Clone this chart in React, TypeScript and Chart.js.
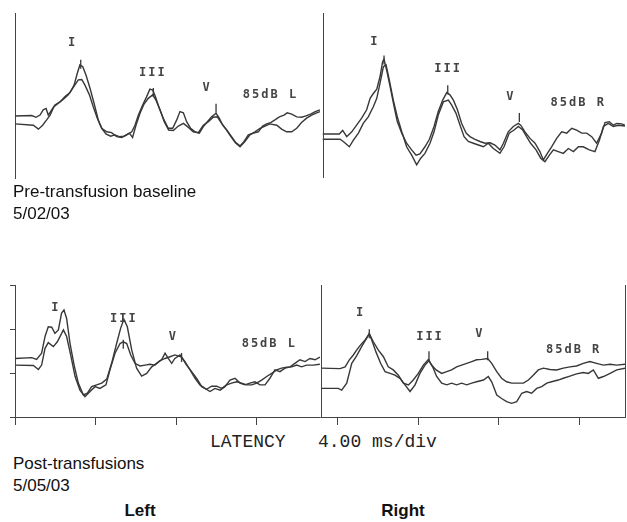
import React, { useEffect, useRef } from "react";
import { Chart, registerables } from "chart.js";

Chart.register(...registerables);

type Pt = [number, number];
type Label = { text: string; t: number; v: number; align: "left" | "center" };

// Shared latency axis (ms), 4.00 ms / div
const timeMax = 30.25;
const tickStep = 4;
const preSplit = 15.26; // boundary between Left / Right panels (ms)
const postSplit = 15.17;

// ---- Pre-transfusion baseline (5/02/03): [latency ms, amplitude] ----
const preLeftA: Pt[] = [
  [0, -0.09], [0.83, -0.08], [1.04, -0.12], [1.24, -0.07], [1.4, 0.05], [1.54, 0.08], [1.65, -0.07], [1.82, 0.05],
  [1.98, 0.16], [2.23, 0.23], [2.48, 0.35], [2.73, 0.44], [2.93, 0.61], [3.09, 0.88], [3.22, 1.07], [3.36, 1.03],
  [3.52, 0.84], [3.72, 0.54], [3.92, 0.2], [4.13, -0.18], [4.3, -0.37], [4.55, -0.45], [4.79, -0.47], [5.04, -0.56],
  [5.29, -0.58], [5.54, -0.52], [5.79, -0.45], [5.95, -0.3], [6.12, -0.07], [6.33, 0.16], [6.53, 0.35], [6.69, 0.52],
  [6.83, 0.5], [6.96, 0.35], [7.16, 0.08], [7.39, -0.18], [7.6, -0.37], [7.82, -0.37], [8.02, -0.18], [8.18, 0.01],
  [8.35, -0.02], [8.51, -0.22], [8.71, -0.37], [8.93, -0.45], [9.14, -0.48], [9.34, -0.33], [9.54, -0.22], [9.75, -0.11],
  [9.97, -0.03], [10.13, -0.14], [10.3, -0.3], [10.5, -0.41], [10.74, -0.56], [10.96, -0.7], [11.16, -0.77], [11.36, -0.67],
  [11.57, -0.52], [11.82, -0.48], [12.07, -0.45], [12.28, -0.32], [12.48, -0.27], [12.68, -0.24], [12.89, -0.18], [13.11, -0.11],
  [13.34, -0.07], [13.5, -0.02], [13.72, -0.05], [13.97, -0.11], [14.21, -0.12], [14.43, -0.09], [14.66, -0.05], [14.89, 0.01],
  [15.12, 0.05],
];
const preLeftB: Pt[] = [
  [0, -0.27], [0.91, -0.3], [1.16, -0.39], [1.37, -0.3], [1.57, -0.18], [1.74, -0.07], [1.93, 0.12], [2.15, 0.2],
  [2.4, 0.29], [2.64, 0.39], [2.89, 0.56], [3.14, 0.73], [3.31, 0.74], [3.47, 0.61], [3.69, 0.39], [3.88, 0.12],
  [4.08, -0.14], [4.3, -0.37], [4.51, -0.5], [4.74, -0.55], [4.96, -0.52], [5.17, -0.56], [5.4, -0.55], [5.67, -0.48],
  [5.83, -0.58], [6.0, -0.3], [6.2, -0.03], [6.4, 0.18], [6.61, 0.31], [6.83, 0.39], [6.99, 0.27], [7.19, 0.05],
  [7.4, -0.22], [7.62, -0.41], [7.85, -0.42], [8.1, -0.32], [8.35, -0.26], [8.6, -0.35], [8.84, -0.45], [9.09, -0.47],
  [9.34, -0.3], [9.59, -0.22], [9.83, -0.12], [10.03, -0.11], [10.25, -0.26], [10.46, -0.39], [10.69, -0.55], [10.93, -0.7],
  [11.16, -0.79], [11.4, -0.67], [11.65, -0.52], [11.9, -0.45], [12.15, -0.37], [12.4, -0.32], [12.64, -0.27], [12.98, -0.3],
  [13.22, -0.39], [13.47, -0.45], [13.72, -0.45], [13.97, -0.37], [14.21, -0.24], [14.46, -0.14], [14.71, -0.07], [14.96, -0.02],
  [15.12, 0.01],
];
const preRightA: Pt[] = [
  [15.26, -0.5], [16.08, -0.5], [16.25, -0.42], [16.45, -0.56], [16.7, -0.45], [16.94, -0.3], [17.19, -0.14], [17.44, 0.05],
  [17.61, 0.31], [17.77, 0.42], [17.94, 0.52], [18.1, 0.8], [18.23, 1.14], [18.3, 1.2], [18.43, 0.95], [18.6, 0.58],
  [18.8, 0.12], [18.96, -0.22], [19.18, -0.48], [19.42, -0.71], [19.67, -0.86], [19.89, -0.98], [20.08, -0.95], [20.33, -0.79],
  [20.55, -0.62], [20.78, -0.33], [20.99, 0.01], [21.21, 0.27], [21.41, 0.44], [21.57, 0.39], [21.74, 0.27], [21.94, 0.05],
  [22.15, -0.26], [22.37, -0.48], [22.56, -0.56], [22.81, -0.62], [23.06, -0.67], [23.31, -0.71], [23.56, -0.7], [23.8, -0.75],
  [24.05, -0.86], [24.22, -0.71], [24.46, -0.45], [24.71, -0.33], [24.96, -0.26], [25.08, -0.3], [25.29, -0.45], [25.54, -0.6],
  [25.79, -0.71], [26.03, -0.9], [26.2, -1.09], [26.4, -0.94], [26.61, -0.79], [26.86, -0.6], [27.11, -0.45], [27.36, -0.48],
  [27.61, -0.37], [27.85, -0.41], [28.1, -0.48], [28.35, -0.48], [28.6, -0.56], [28.84, -0.71], [29.09, -0.48], [29.26, -0.24],
  [29.47, -0.22], [29.67, -0.3], [29.84, -0.26], [30.08, -0.27], [30.25, -0.3],
];
const preRightB: Pt[] = [
  [15.26, -0.62], [16.12, -0.62], [16.28, -0.67], [16.58, -0.79], [16.78, -0.64], [17.03, -0.48], [17.27, -0.26], [17.52, -0.11],
  [17.77, 0.12], [17.94, 0.31], [18.1, 0.65], [18.27, 1.03], [18.4, 1.07], [18.56, 0.73], [18.76, 0.27], [18.96, -0.11],
  [19.18, -0.45], [19.42, -0.79], [19.67, -0.98], [19.92, -1.2], [20.12, -1.05], [20.33, -0.94], [20.58, -0.71], [20.78, -0.45],
  [20.99, -0.07], [21.24, 0.23], [21.49, 0.27], [21.65, 0.16], [21.87, -0.03], [22.07, -0.3], [22.27, -0.56], [22.48, -0.67],
  [22.73, -0.71], [22.98, -0.75], [23.23, -0.79], [23.47, -0.71], [23.72, -0.83], [24.05, -0.94], [24.25, -0.79], [24.51, -0.48],
  [24.75, -0.41], [24.96, -0.33], [25.18, -0.41], [25.37, -0.56], [25.57, -0.71], [25.84, -0.86], [26.07, -1.05], [26.28, -1.13],
  [26.5, -0.98], [26.7, -0.86], [26.94, -0.9], [27.19, -0.94], [27.44, -0.83], [27.69, -0.9], [27.94, -0.79], [28.18, -0.79],
  [28.48, -0.86], [28.76, -0.9], [28.98, -0.64], [29.18, -0.33], [29.42, -0.26], [29.67, -0.33], [29.92, -0.3], [30.25, -0.32],
];

// ---- Post-transfusions (5/05/03) ----
const postLeftA: Pt[] = [
  [0, -0.67], [0.83, -0.65], [1.07, -0.69], [1.32, -0.55], [1.49, -0.17], [1.65, 0.05], [1.82, 0.04], [1.98, -0.1],
  [2.15, -0.02], [2.31, 0.36], [2.43, 0.43], [2.56, 0.24], [2.73, -0.33], [2.93, -0.82], [3.14, -1.23], [3.39, -1.5],
  [3.59, -1.46], [3.8, -1.31], [4.05, -1.27], [4.3, -1.23], [4.55, -1.14], [4.79, -0.78], [5.04, -0.33], [5.24, 0.02],
  [5.4, 0.22], [5.57, 0.05], [5.79, -0.48], [6.03, -0.89], [6.28, -1.07], [6.53, -1.01], [6.78, -0.86], [7.02, -0.78],
  [7.27, -0.7], [7.44, -0.55], [7.6, -0.67], [7.77, -0.78], [7.93, -0.67], [8.18, -0.59], [8.43, -0.74], [8.68, -0.93],
  [8.93, -1.12], [9.17, -1.27], [9.42, -1.35], [9.67, -1.42], [9.92, -1.35], [10.17, -1.39], [10.41, -1.31], [10.66, -1.16],
  [10.91, -1.12], [11.16, -1.23], [11.4, -1.27], [11.65, -1.23], [11.9, -1.2], [12.15, -1.27], [12.4, -1.27], [12.64, -1.12],
  [12.89, -0.93], [13.14, -0.97], [13.39, -0.89], [13.64, -0.86], [13.88, -0.78], [14.13, -0.7], [14.38, -0.74], [14.63, -0.67],
  [14.88, -0.7], [15.12, -0.64],
];
const postLeftB: Pt[] = [
  [0, -0.82], [0.91, -0.83], [1.16, -0.92], [1.32, -0.82], [1.49, -0.44], [1.65, -0.31], [1.9, -0.4], [2.1, -0.29],
  [2.4, -0.02], [2.56, -0.17], [2.76, -0.59], [2.98, -1.08], [3.22, -1.39], [3.47, -1.54], [3.72, -1.42], [3.97, -1.31],
  [4.21, -1.35], [4.51, -1.27], [4.71, -0.93], [4.96, -0.55], [5.21, -0.33], [5.37, -0.29], [5.54, -0.33], [5.74, -0.59],
  [5.95, -0.78], [6.2, -0.84], [6.45, -0.82], [6.69, -0.8], [6.94, -0.82], [7.19, -0.72], [7.44, -0.67], [7.69, -0.63],
  [7.93, -0.59], [8.26, -0.64], [8.51, -0.82], [8.76, -0.97], [9.01, -1.12], [9.26, -1.31], [9.5, -1.37], [9.75, -1.3],
  [10.0, -1.3], [10.25, -1.35], [10.5, -1.27], [10.74, -1.23], [10.99, -1.2], [11.24, -1.23], [11.49, -1.27], [11.74, -1.27],
  [11.98, -1.23], [12.23, -1.16], [12.48, -1.08], [12.73, -1.01], [12.98, -0.93], [13.22, -0.89], [13.47, -0.87], [13.72, -0.86],
  [13.97, -0.82], [14.21, -0.86], [14.46, -0.82], [14.79, -0.82], [15.12, -0.8],
];
const postRightA: Pt[] = [
  [15.18, -0.89], [16.12, -0.9], [16.37, -0.86], [16.58, -0.7], [16.78, -0.59], [16.94, -0.48], [17.14, -0.36], [17.36, -0.25],
  [17.57, -0.11], [17.77, -0.29], [18.02, -0.48], [18.27, -0.63], [18.51, -0.86], [18.76, -0.93], [19.01, -1.05], [19.26, -1.23],
  [19.51, -1.27], [19.75, -1.16], [20.0, -1.01], [20.25, -0.82], [20.5, -0.69], [20.66, -0.82], [20.88, -0.93], [21.16, -1.01],
  [21.41, -0.97], [21.65, -0.93], [21.9, -0.86], [22.15, -0.82], [22.4, -0.78], [22.65, -0.74], [22.89, -0.7], [23.14, -0.69],
  [23.44, -0.67], [23.64, -0.78], [23.89, -0.97], [24.13, -1.12], [24.38, -1.2], [24.63, -1.23], [24.88, -1.23], [25.21, -1.23],
  [25.46, -1.16], [25.7, -1.05], [25.95, -0.93], [26.2, -0.89], [26.53, -0.92], [26.86, -0.93], [27.19, -0.89], [27.52, -0.86],
  [27.85, -0.84], [28.18, -0.78], [28.51, -0.74], [28.84, -0.78], [29.18, -0.82], [29.51, -0.8], [29.84, -0.82], [30.25, -0.8],
];
const postRightB: Pt[] = [
  [15.18, -1.35], [16.03, -1.35], [16.2, -1.39], [16.45, -1.23], [16.7, -0.78], [16.94, -0.61], [17.19, -0.4], [17.44, -0.21],
  [17.57, -0.1], [17.69, -0.25], [17.9, -0.52], [18.13, -0.78], [18.35, -0.97], [18.6, -1.01], [18.84, -1.05], [19.09, -1.12],
  [19.34, -1.27], [19.59, -1.42], [19.84, -1.27], [20.08, -1.01], [20.33, -0.82], [20.53, -0.72], [20.71, -0.86], [20.91, -1.08],
  [21.16, -1.23], [21.41, -1.27], [21.65, -1.23], [21.9, -1.27], [22.15, -1.23], [22.4, -1.27], [22.65, -1.23], [22.89, -1.2],
  [23.23, -1.16], [23.47, -1.08], [23.64, -1.2], [23.89, -1.5], [24.13, -1.58], [24.38, -1.65], [24.63, -1.69], [24.88, -1.65],
  [25.13, -1.46], [25.37, -1.42], [25.62, -1.46], [25.87, -1.35], [26.12, -1.31], [26.37, -1.23], [26.61, -1.2], [26.94, -1.16],
  [27.19, -1.12], [27.52, -1.07], [27.85, -1.02], [28.18, -0.99], [28.43, -1.01], [28.68, -0.93], [28.93, -1.12], [29.18, -1.08],
  [29.51, -1.01], [29.84, -0.93], [30.25, -0.89],
];

// Wave labels (anchor at latency / amplitude)
const preLabels: Label[] = [
  { text: "I", t: 2.86, v: 1.58, align: "center" },
  { text: "III", t: 6.84, v: 0.89, align: "center" },
  { text: "V", t: 9.53, v: 0.55, align: "center" },
  { text: "85dB L", t: 11.3, v: 0.39, align: "left" },
  { text: "I", t: 17.85, v: 1.6, align: "center" },
  { text: "III", t: 21.48, v: 0.99, align: "center" },
  { text: "V", t: 24.59, v: 0.35, align: "center" },
  { text: "85dB R", t: 26.56, v: 0.21, align: "left" },
];
const postLabels: Label[] = [
  { text: "I", t: 2.03, v: 0.47, align: "center" },
  { text: "III", t: 5.4, v: 0.24, align: "center" },
  { text: "V", t: 7.85, v: -0.17, align: "center" },
  { text: "85dB L", t: 11.24, v: -0.34, align: "left" },
  { text: "I", t: 17.14, v: 0.36, align: "center" },
  { text: "III", t: 20.58, v: -0.17, align: "center" },
  { text: "V", t: 23.05, v: -0.11, align: "center" },
  { text: "85dB R", t: 26.33, v: -0.48, align: "left" },
];
// Peak cursor marks (latency, amplitude of mark top)
const preMarks: Pt[] = [[3.26, 1.14], [6.86, 0.5], [9.97, 0.14], [18.3, 1.24], [21.46, 0.56], [25.01, -0.07]];
const postMarks: Pt[] = [[5.37, -0.29], [8.26, -0.59], [17.57, -0.05], [20.53, -0.55], [23.44, -0.55]];

const INK = "#383838";

const ds = (pts: Pt[]) => ({
  data: pts.map(([x, y]) => ({ x, y })),
  borderColor: INK,
  borderWidth: 1.4,
  pointRadius: 0,
  tension: 0,
  fill: false,
});

function overlay(split: number, labels: Label[], marks: Pt[]) {
  return {
    id: "overlay",
    afterDatasetsDraw(chart: any) {
      const { ctx, chartArea, scales } = chart;
      const x = scales.x;
      const y = scales.y;
      ctx.save();
      ctx.strokeStyle = "#444";
      ctx.lineWidth = 1;
      const sx = Math.round(x.getPixelForValue(split)) + 0.5;
      ctx.beginPath();
      ctx.moveTo(sx, chartArea.top);
      ctx.lineTo(sx, chartArea.bottom);
      ctx.stroke();
      ctx.strokeStyle = INK;
      ctx.lineWidth = 1.3;
      marks.forEach(([t, v]) => {
        const px = x.getPixelForValue(t);
        const py = y.getPixelForValue(v);
        ctx.beginPath();
        ctx.moveTo(px, py - 2);
        ctx.lineTo(px, py + 7);
        ctx.stroke();
      });
      ctx.fillStyle = "#444";
      ctx.font = 'bold 12px "DejaVu Sans Mono", "Liberation Mono", monospace';
      (ctx as any).letterSpacing = "2px";
      ctx.textBaseline = "middle";
      labels.forEach((l) => {
        ctx.textAlign = l.align;
        ctx.fillText(l.text, x.getPixelForValue(l.t), y.getPixelForValue(l.v));
      });
      ctx.restore();
    },
  };
}

export default function App() {
  const topRef = useRef<HTMLCanvasElement | null>(null);
  const botRef = useRef<HTMLCanvasElement | null>(null);

  useEffect(() => {
    const top = new Chart(topRef.current!, {
      type: "line",
      data: { datasets: [ds(preLeftA), ds(preLeftB), ds(preRightA), ds(preRightB)] as any },
      options: {
        animation: false,
        responsive: true,
        maintainAspectRatio: false,
        layout: { padding: { left: 15, right: 2, top: 13, bottom: 12 } },
        plugins: { legend: { display: false }, tooltip: { enabled: false } },
        scales: {
          x: { type: "linear", min: 0, max: timeMax, display: false },
          y: {
            min: -1.5,
            max: 2.25,
            ticks: { display: false },
            grid: { drawOnChartArea: false, drawTicks: false },
            border: { display: true, color: "#444", width: 1 },
          },
        },
      } as any,
      plugins: [overlay(preSplit, preLabels, preMarks)],
    });
    const bot = new Chart(botRef.current!, {
      type: "line",
      data: { datasets: [ds(postLeftA), ds(postLeftB), ds(postRightA), ds(postRightB)] as any },
      options: {
        animation: false,
        responsive: true,
        maintainAspectRatio: false,
        layout: { padding: { left: 10, right: 2, top: 15, bottom: 5 } },
        plugins: { legend: { display: false }, tooltip: { enabled: false } },
        scales: {
          x: {
            type: "linear",
            min: 0,
            max: timeMax,
            ticks: { display: false, stepSize: tickStep, includeBounds: false },
            grid: { drawOnChartArea: false, drawTicks: true, tickLength: 8, color: "#444" },
            border: { display: true, color: "#444", width: 1 },
          },
          y: {
            min: -2,
            max: 1,
            ticks: { display: false, stepSize: 1 },
            grid: { drawOnChartArea: false, drawTicks: true, tickLength: 5, color: "#444" },
            border: { display: true, color: "#444", width: 1 },
          },
          y2: {
            position: "right",
            display: true,
            min: -2,
            max: 1,
            ticks: { display: false },
            grid: { drawOnChartArea: false, drawTicks: false },
            border: { display: true, color: "#444", width: 1 },
          },
        },
      } as any,
      plugins: [overlay(postSplit, postLabels, postMarks)],
    });
    return () => {
      top.destroy();
      bot.destroy();
    };
  }, []);

  const sans = '"Liberation Sans", Arial, sans-serif';
  const txt: React.CSSProperties = { position: "absolute", fontFamily: sans, fontSize: 17, lineHeight: "22px", color: "#111", whiteSpace: "pre" };

  return (
    <div style={{ position: "absolute", left: 0, top: 0, width: 627, height: 522, background: "#fff", overflow: "hidden" }}>
      <div style={{ position: "absolute", left: 0, top: 0, width: 627, height: 190 }}>
        <canvas ref={topRef} />
      </div>
      <div style={{ position: "absolute", left: 0, top: 270, width: 627, height: 160 }}>
        <canvas ref={botRef} />
      </div>
      <div style={{ ...txt, left: 13, top: 181 }}>{"Pre-transfusion baseline\n5/02/03"}</div>
      <div
        style={{
          position: "absolute",
          left: 210,
          top: 432,
          fontFamily: '"Liberation Mono", "Courier New", monospace',
          fontSize: 18,
          lineHeight: "20px",
          color: "#222",
          whiteSpace: "pre",
        }}
      >
        {"LATENCY   4.00 ms/div"}
      </div>
      <div style={{ ...txt, left: 13, top: 453 }}>{"Post-transfusions\n5/05/03"}</div>
      <div style={{ ...txt, left: 100, top: 500, width: 80, textAlign: "center", fontWeight: "bold" }}>Left</div>
      <div style={{ ...txt, left: 363, top: 500, width: 80, textAlign: "center", fontWeight: "bold" }}>Right</div>
    </div>
  );
}
